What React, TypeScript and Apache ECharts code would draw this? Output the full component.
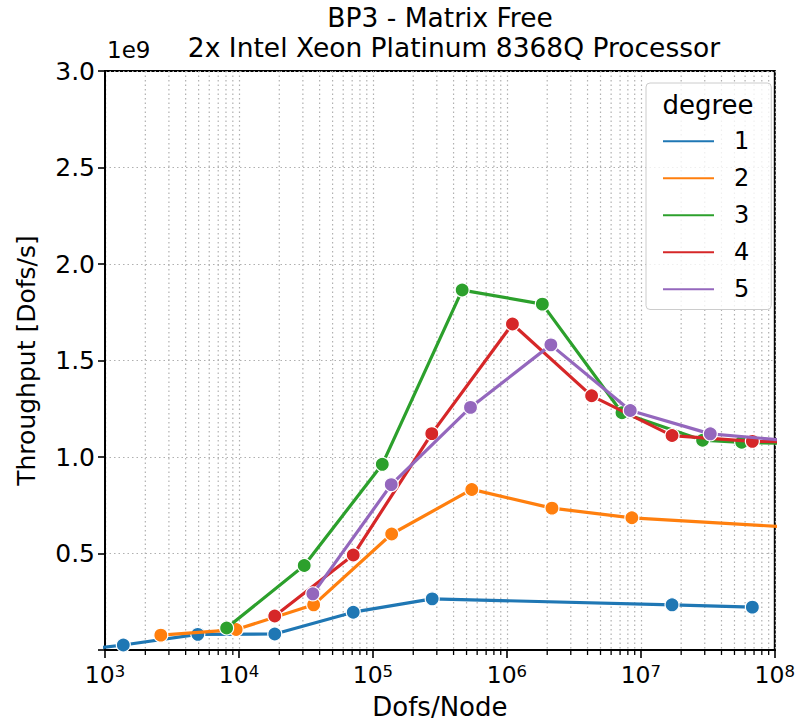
import React, { useEffect, useRef } from "react";
import * as echarts from "echarts";

// ---- data (throughput in units of 1e9 Dofs/s) ----
const degrees = ["1", "2", "3", "4", "5"];
const colors = ["#1f77b4", "#ff7f0e", "#2ca02c", "#d62728", "#9467bd"];

const dofs1 = [700, 1370, 4930, 18500, 71300, 277000, 1.71e7, 6.8e7];
const thr1 = [0.002, 0.026, 0.081, 0.083, 0.196, 0.265, 0.234, 0.222];

const dofs2 = [2610, 9530, 36100, 138000, 547000, 2.17e6, 8.57e6, 1.34e8];
const thr2 = [0.077, 0.106, 0.234, 0.601, 0.832, 0.735, 0.685, 0.636];

const dofs3 = [8090, 30700, 117500, 463700, 1.84e6, 7.23e6, 2.89e7, 5.66e7, 2.3e8];
const thr3 = [0.114, 0.438, 0.962, 1.865, 1.792, 1.229, 1.087, 1.076, 1.066];

const dofs4 = [18500, 71300, 275000, 1.1e6, 4.29e6, 1.71e7, 6.8e7, 2.7e8];
const thr4 = [0.176, 0.492, 1.121, 1.689, 1.317, 1.111, 1.081, 1.077];

const dofs5 = [35600, 137000, 535000, 2.13e6, 8.34e6, 3.3e7, 1.31e8];
const thr5 = [0.291, 0.857, 1.257, 1.581, 1.241, 1.12, 1.084];

const xDecades = [1e3, 1e4, 1e5, 1e6, 1e7];
const minorMultipliers = [2, 3, 4, 5, 6, 7, 8, 9];
const yMin = 0;
const yMax = 3;
const yStep = 0.5;

const FONT = "DejaVu Sans";

export default function App() {
  const ref = useRef<HTMLDivElement>(null);

  useEffect(() => {
    document.body.style.margin = "0";
    const chart = echarts.init(ref.current!, null, { renderer: "svg" });

    const allDofs = [dofs1, dofs2, dofs3, dofs4, dofs5];
    const allThr = [thr1, thr2, thr3, thr4, thr5];

    const minorVals: number[][] = [];
    xDecades.forEach((d) => minorMultipliers.forEach((m) => minorVals.push([d * m, 0])));

    const lineSeries = degrees.map((name, k) => ({
      name,
      type: "line",
      data: allDofs[k].map((x, i) => [x, allThr[k][i]]),
      symbol: "circle",
      symbolSize: 14,
      showSymbol: true,
      clip: true,
      z: 3 + k,
      lineStyle: { width: 3.2, color: colors[k] },
      itemStyle: { color: colors[k], borderColor: "#ffffff", borderWidth: 1.2 },
      emphasis: { disabled: true },
    }));

    const minorSeries = {
      type: "custom",
      name: "minor",
      silent: true,
      z: 1,
      clip: false,
      data: minorVals,
      encode: { x: 0, y: 1 },
      renderItem: (params: any, api: any) => {
        const v = api.value(0);
        const top = api.coord([v, yMax]);
        const bot = api.coord([v, yMin]);
        return {
          type: "group",
          children: [
            {
              type: "line",
              shape: { x1: bot[0], y1: top[1], x2: bot[0], y2: bot[1] },
              style: { stroke: "#b0b0b0", lineWidth: 1.2, lineDash: [1.5, 3] },
            },
            {
              type: "line",
              shape: { x1: bot[0], y1: bot[1], x2: bot[0], y2: bot[1] + 5 },
              style: { stroke: "#000", lineWidth: 1.3 },
            },
          ],
        };
      },
    };

    const option: any = {
      animation: false,
      color: colors,
      textStyle: { fontFamily: FONT },
      grid: {
        left: 105,
        right: 23,
        top: 71,
        bottom: 73,
        show: true,
        borderColor: "#000",
        borderWidth: 2,
        containLabel: false,
      },
      xAxis: {
        type: "log",
        logBase: 10,
        min: 1e3,
        max: 1e8,
        name: "Dofs/Node",
        nameLocation: "middle",
        nameGap: 44,
        nameTextStyle: { fontSize: 26, color: "#000", fontFamily: FONT },
        axisLine: { show: true, lineStyle: { color: "#000", width: 2 } },
        axisTick: { show: true, length: 8, lineStyle: { color: "#000", width: 1.6 } },
        splitLine: { show: true, lineStyle: { color: "#b0b0b0", width: 1.2, type: [1.5, 3] } },
        axisLabel: {
          margin: 13,
          color: "#000",
          formatter: (v: number) => {
            const e = Math.round(Math.log10(v));
            return "{b|10}{s|" + e + "}";
          },
          rich: {
            b: { fontSize: 23.5, fontFamily: FONT, color: "#000" },
            s: { fontSize: 16.5, fontFamily: FONT, color: "#000", verticalAlign: "top" },
          },
        },
      },
      yAxis: {
        type: "value",
        min: yMin,
        max: yMax,
        interval: yStep,
        name: "Throughput [Dofs/s]",
        nameLocation: "middle",
        nameGap: 66,
        nameTextStyle: { fontSize: 25, color: "#000", fontFamily: FONT },
        axisLine: { show: true, lineStyle: { color: "#000", width: 2 } },
        axisTick: { show: true, length: 7, lineStyle: { color: "#000", width: 1.6 } },
        splitLine: { show: true, lineStyle: { color: "#b0b0b0", width: 1.2, type: [1.5, 3] } },
        axisLabel: {
          fontSize: 25,
          color: "#000",
          margin: 10,
          fontFamily: FONT,
          formatter: (v: number) => (v === 0 ? "" : v.toFixed(1)),
        },
      },
      legend: {
        data: degrees,
        orient: "vertical",
        left: 646,
        top: 83,
        padding: [46, 22, 8, 15],
        itemWidth: 53,
        itemHeight: 3.8,
        itemGap: 12.5,
        icon: "rect",
        backgroundColor: "rgba(255,255,255,0.8)",
        borderColor: "#cccccc",
        borderWidth: 1,
        borderRadius: 4,
        selectedMode: false,
        textStyle: { fontSize: 24, color: "#000", fontFamily: FONT, lineHeight: 24.5, padding: [0, 0, 0, 14] },
      },
      graphic: [
        {
          type: "text",
          x: 440,
          y: 17,
          z: 100,
          style: { text: "BP3 - Matrix Free", fontSize: 26.5, fontFamily: FONT, fill: "#000", textAlign: "center", textVerticalAlign: "middle" },
        },
        {
          type: "text",
          x: 454,
          y: 47,
          z: 100,
          style: { text: "2x Intel Xeon Platinum 8368Q Processor", fontSize: 26.5, fontFamily: FONT, fill: "#000", textAlign: "center", textVerticalAlign: "middle" },
        },
        {
          type: "text",
          x: 107,
          y: 50,
          z: 100,
          style: { text: "1e9", fontSize: 23, fontFamily: FONT, fill: "#000", textAlign: "left", textVerticalAlign: "middle" },
        },
        {
          type: "text",
          x: 708,
          y: 105,
          z: 100,
          style: { text: "degree", fontSize: 26, fontFamily: FONT, fill: "#000", textAlign: "center", textVerticalAlign: "middle" },
        },
      ],
      series: [minorSeries, ...lineSeries],
    };

    chart.setOption(option);
    return () => chart.dispose();
  }, []);

  return <div ref={ref} style={{ width: 798, height: 725 }} />;
}
